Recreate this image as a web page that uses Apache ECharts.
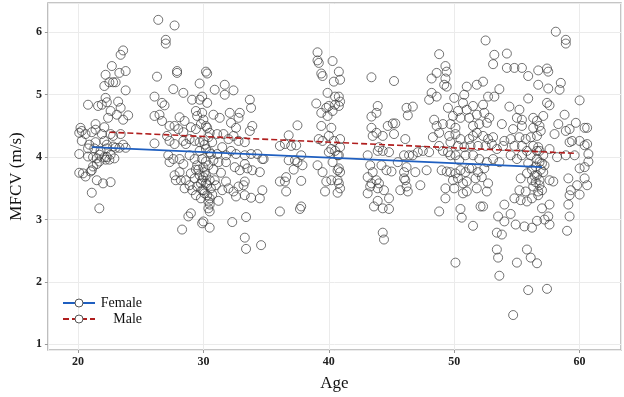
<!DOCTYPE html>
<html>
<head>
<meta charset="utf-8">
<script src="https://cdn.jsdelivr.net/npm/echarts@6/dist/echarts.min.js"></script>
<style>
  html, body { margin: 0; padding: 0; background: #fff; }
  #chart { width: 624px; height: 397px; }
</style>
</head>
<body>
<div id="chart"></div>
<script>
// age groups, each point is [age, MFCV]
const group20s = [
  [23.6,5.71],[23.4,5.64],[22.7,5.46],[22.2,5.32],[23.3,5.35],[23.8,5.38],[22.8,5.2],[23.0,5.2],[22.5,5.2],[22.1,5.14],[23.8,5.07],
  [20.8,4.84],[21.6,4.82],[22.2,4.95],[22.3,4.88],[21.9,4.84],[23.2,4.89],[22.6,4.74],[23.4,4.79],[23.1,4.68],[24.0,4.67],[22.4,4.63],[23.6,4.60],
  [21.4,4.53],[20.2,4.47],[20.3,4.42],[20.1,4.39],[22.1,4.48],[21.4,4.44],[20.6,4.37],[21.1,4.40],[21.9,4.37],[22.6,4.37],[22.8,4.34],[23.4,4.37],
  [20.3,4.26],[20.9,4.20],[21.4,4.24],[22.1,4.26],[22.3,4.20],[22.8,4.17],[23.0,4.15],[23.6,4.20],[23.3,4.15],[23.8,4.15],
  [20.8,4.14],[21.3,4.14],[21.8,4.10],[22.3,4.14],[21.7,4.04],[22.1,4.00],[22.3,4.00],[22.6,4.04],[22.9,3.98],[21.2,4.00],[21.5,3.98],[20.1,4.05],[20.8,4.01],[22.2,3.96],[22.5,3.96],
  [21.7,3.93],[21.5,3.89],[21.2,3.85],[21.1,3.79],[21.0,3.77],[20.1,3.75],[20.4,3.74],[20.6,3.69],[21.5,3.63],[22.0,3.58],[22.6,3.60],[21.1,3.43],[21.7,3.18]
];
const group30s = [
  [26.4,6.20],[27.7,6.11],[27.0,5.88],[27.0,5.82],[27.9,5.38],[27.9,5.35],[26.3,5.29],[29.7,5.18],[30.2,5.37],[27.6,5.09],[28.4,5.03],[26.1,4.97],[26.7,4.87],[26.9,4.83],[29.1,4.92],[29.7,4.92],[29.9,4.97],
  [26.1,4.66],[26.5,4.68],[26.7,4.58],[28.1,4.64],[28.5,4.58],[29.4,4.74],[29.5,4.66],[29.9,4.71],[30.0,4.60],
  [27.3,4.50],[27.7,4.50],[28.0,4.45],[28.4,4.40],[29.0,4.48],[29.4,4.45],[29.8,4.53],[30.2,4.50],
  [26.1,4.22],[27.1,4.34],[27.3,4.26],[27.7,4.21],[28.4,4.26],[28.6,4.21],[28.9,4.29],[29.3,4.26],[29.7,4.24],[30.0,4.26],
  [27.2,4.03],[27.6,3.97],[27.3,3.92],[28.1,3.97],[28.4,3.89],[28.9,4.03],[29.3,3.97],[29.5,3.87],[29.9,3.97],[30.0,3.84],
  [27.7,3.71],[28.1,3.76],[27.8,3.63],[28.2,3.63],[28.6,3.63],[29.0,3.74],[29.3,3.66],[29.7,3.71],[29.9,3.63],
  [28.5,3.50],[28.9,3.55],[29.1,3.47],[29.5,3.53],[29.9,3.47],[30.2,3.58],[29.4,3.39],[29.8,3.34],
  [28.8,3.05],[29.0,3.10],[28.3,2.84],[29.9,2.94],[30.0,2.97],
  [30.3,5.34],[30.9,5.08],[31.7,5.16],[31.7,5.00],[32.4,5.07],[33.7,4.92],[33.8,4.79],[30.3,4.87],[30.8,4.68],[31.3,4.63],[32.1,4.71],[32.9,4.71],[32.8,4.63],[32.2,4.55],[32.6,4.47],[33.9,4.50],[33.7,4.42],[33.3,4.24],
  [30.3,4.47],[30.5,4.39],[30.4,4.32],[30.7,4.24],[31.1,4.37],[31.6,4.37],[32.0,4.29],[32.4,4.34],[32.8,4.26],
  [30.2,4.13],[30.5,4.08],[31.1,4.05],[31.5,4.16],[31.8,4.03],[32.2,4.10],[32.6,4.05],[33.3,4.03],[33.8,4.05],[34.3,4.05],[34.7,3.97],[34.8,3.97],
  [30.2,3.93],[30.4,3.87],[30.8,3.95],[31.2,3.92],[31.8,3.92],[32.5,3.84],[32.9,3.79],[33.3,3.89],[33.5,3.82],[33.9,3.79],[34.5,3.76],
  [30.2,3.71],[30.5,3.63],[30.9,3.63],[30.3,3.55],[31.8,3.61],[32.0,3.50],[31.5,3.47],[32.4,3.45],[32.8,3.53],[33.2,3.55],[33.3,3.61],
  [32.6,3.37],[33.3,3.39],[33.8,3.35],[34.5,3.34],[34.7,3.47],
  [30.0,3.47],[30.3,3.39],[30.5,3.34],[30.4,3.29],[30.5,3.24],[30.4,3.18],[30.5,3.13],[30.5,2.87],[32.3,2.96],[33.4,3.04],[33.3,2.71],[33.4,2.53],[34.6,2.59],
  [29.6,3.80],[30.1,3.76],[30.0,3.68],[29.8,3.58],[30.6,3.50],[30.1,3.42],[29.7,4.10],[30.6,4.05],[30.1,4.20],[30.8,3.80],[31.0,3.55],[30.7,3.40],[29.4,3.80],[31.4,3.75],[31.2,3.30]
];
const group40s = [
  [37.5,4.51],[36.8,4.35],[36.1,4.18],[36.5,4.21],[37.0,4.18],[37.4,4.19],[36.8,3.95],[37.3,3.95],[37.5,3.92],[37.9,3.87],[37.8,4.03],[37.2,3.80],[36.6,3.68],[36.1,3.61],[36.5,3.61],[37.8,3.62],[36.6,3.45],[36.1,3.13],[37.7,3.17],[37.8,3.21],
  [39.1,3.87],[39.1,5.68],[39.1,5.55],[39.2,5.51],[40.3,5.54],[39.4,5.34],[39.5,5.30],[40.4,5.21],[40.8,5.37],[39.9,5.03],[40.5,4.97],[39.0,4.86],[39.4,4.71],[39.8,4.79],[40.0,4.82],[40.5,4.84],[39.9,4.66],[40.3,4.74],
  [39.4,4.50],[40.2,4.47],[40.0,4.34],[40.4,4.26],[39.2,4.29],[39.5,4.26],[40.2,4.13],[40.0,4.08],[40.7,4.03],[40.5,4.10],[40.3,3.92],[40.7,3.79],[39.5,3.76],[39.8,3.61],[40.2,3.63],[40.7,3.63],
  [40.9,5.24],[40.8,4.97],[40.9,4.89],[40.8,4.82],[40.9,4.29],[40.9,4.16],[40.8,4.03],[40.8,3.82],[40.9,3.76],[40.8,3.58],[40.9,3.50],[39.7,3.45],[40.7,3.43],
  [43.4,5.28],[45.2,5.22],[43.9,4.82],[43.4,4.65],[43.8,4.71],[46.2,4.79],[46.3,4.67],[44.7,4.50],[45.1,4.54],[45.3,4.54],[43.4,4.47],[45.2,4.37],[44.3,4.34],[43.5,4.34],[43.8,4.39],[46.1,4.29],
  [44.0,4.16],[44.3,4.10],[44.8,4.08],[43.9,4.10],[43.1,4.03],[44.2,3.87],[44.6,3.79],[45.0,3.77],[45.5,3.92],[46.0,4.03],
  [43.3,3.87],[43.5,3.76],[43.1,3.68],[43.8,3.63],[43.4,3.58],[44.0,3.58],[43.9,3.50],[44.4,3.47],[43.3,3.53],[43.1,3.42],
  [43.9,3.30],[43.6,3.21],[44.3,3.18],[44.8,3.34],[44.8,3.17],[45.7,3.47],[46.3,3.45],[46.0,3.66],[44.3,2.79],[44.4,2.68],
  [46.7,4.81],[46.4,4.03],[46.7,4.03],[47.1,4.08],[47.5,4.10],[48.0,4.08],[46.2,3.84],[46.0,3.76],[46.1,3.63],[46.2,3.53],[46.9,3.76],[47.3,3.55],[47.8,3.79]
];
const group50s = [
  [48.8,5.65],[48.6,5.35],[48.2,5.26],[49.3,5.46],[49.4,5.37],[49.3,5.26],[49.4,5.13],[49.2,5.16],[48.2,5.03],[48.6,4.97],[48.0,4.92],[50.0,4.95],[50.8,5.00],[51.0,5.13],[50.7,4.87],
  [49.5,4.79],[49.9,4.66],[50.3,4.74],[50.5,4.63],[51.0,4.76],[51.2,4.63],[48.4,4.60],[48.6,4.50],[49.1,4.53],[48.3,4.32],[48.8,4.39],[49.7,4.53],[50.1,4.47],
  [49.6,4.34],[50.1,4.37],[50.5,4.29],[49.7,4.24],[50.3,4.18],[50.8,4.16],[51.2,4.29],[51.3,4.18],
  [48.8,4.18],[49.1,4.10],[49.5,4.08],[49.7,4.03],[50.1,4.03],[50.4,3.95],[50.9,4.03],
  [49.0,3.79],[49.4,3.77],[49.7,3.76],[50.1,3.74],[50.5,3.79],[50.9,3.76],[51.2,3.82],
  [49.9,3.63],[50.3,3.66],[50.7,3.58],[51.0,3.61],[49.3,3.50],[50.0,3.50],[50.7,3.42],[51.0,3.45],
  [49.3,3.34],[48.8,3.13],[50.5,3.17],[50.6,3.03],[50.1,2.31],
  [52.5,5.87],[53.2,5.64],[54.2,5.66],[53.1,5.49],[54.2,5.43],[54.8,5.43],[55.4,5.43],[55.9,5.30],[56.7,5.39],
  [51.8,5.16],[52.3,5.21],[53.6,5.09],[52.7,4.97],[53.2,4.97],[55.9,4.94],[56.7,5.16],
  [51.5,4.82],[52.3,4.84],[52.4,4.71],[51.8,4.68],[52.8,4.63],[54.4,4.81],[55.2,4.76],[55.0,4.63],[55.4,4.60],[56.3,4.63],[56.6,4.58],
  [51.5,4.50],[52.0,4.53],[52.6,4.55],[53.8,4.53],[54.7,4.45],[55.4,4.50],[56.3,4.47],
  [51.5,4.34],[51.8,4.39],[52.3,4.34],[52.7,4.29],[53.1,4.32],[54.0,4.26],[54.5,4.29],[55.2,4.32],[55.7,4.29],[56.1,4.32],[56.6,4.34],
  [51.9,4.18],[52.5,4.18],[53.0,4.21],[53.4,4.13],[53.9,4.18],[54.8,4.18],[55.4,4.18],[56.3,4.18],[56.7,4.16],
  [51.5,4.03],[52.0,3.97],[52.6,3.92],[53.1,3.97],[53.6,3.92],[54.5,4.03],[55.0,3.97],[55.4,4.03],[56.1,4.03],[56.6,3.97],
  [51.4,3.82],[51.9,3.76],[52.4,3.82],[51.7,3.66],[52.2,3.68],[52.7,3.58],[51.8,3.50],[52.6,3.45],
  [55.3,3.66],[55.8,3.74],[56.2,3.63],[56.6,3.71],[55.2,3.47],[55.7,3.45],[56.3,3.53],[56.7,3.45],
  [52.1,3.21],[52.3,3.21],[54.0,3.24],[54.8,3.34],[55.3,3.31],[55.8,3.29],[56.2,3.34],
  [51.5,2.90],[53.5,3.05],[54.0,2.97],[53.4,2.79],[53.8,2.76],[54.5,3.09],[54.9,2.92],[55.6,2.89],[56.2,2.87],[56.6,2.98],
  [53.4,2.52],[53.5,2.39],[55.0,2.31],[55.8,2.52],[56.1,2.39],[56.6,2.30],[53.6,2.10],[55.9,1.87],[54.7,1.47],
  [58.1,6.01],[58.9,5.88],[58.9,5.82],[57.4,5.42],[57.5,5.37],[57.5,5.10],[58.5,5.19],[58.4,5.08],
  [60.0,4.91],[57.4,4.87],[57.6,4.83],[57.1,4.66],[56.8,4.50],[56.9,4.42],
  [58.3,4.53],[58.8,4.68],[58.9,4.42],[59.2,4.45],[59.7,4.55],[60.4,4.47],[60.6,4.47],[58.0,4.37],
  [59.2,4.24],[59.4,4.26],[60.0,4.26],[60.4,4.19],[60.6,4.21],[56.8,4.10],[57.1,4.03],[57.6,4.13],[58.2,4.00],[58.9,4.03],[59.6,4.03],[60.7,4.05],
  [60.7,3.93],[60.4,3.84],[60.0,3.82],[56.8,3.92],[57.2,3.87],[57.1,3.76],[57.6,3.63],[57.9,3.61],[56.8,3.63],[57.0,3.47],[56.7,3.39],
  [59.1,3.66],[60.4,3.66],[60.6,3.55],[59.3,3.47],[59.2,3.39],[59.8,3.55],[60.0,3.40],[59.1,3.24],[59.2,3.05],[59.0,2.82],[57.6,3.24],[57.0,3.18],[57.5,3.05],[57.6,2.92],[57.2,3.00],
  [57.4,1.89],
  [56.5,3.85],[56.9,3.80],[56.4,3.70],[56.8,3.55],[56.5,3.60],[57.0,3.90],[56.2,3.80],[55.9,3.90],[56.6,4.10],[55.8,4.10]
];
// fitted lines (start and end)
const femaleFit = [[21.1, 4.16], [57.0, 3.84]];
const maleFit = [[22.5, 4.40], [59.8, 4.06]];
const legendNames = ["Female", "Male"];

let myChart = echarts.init(document.getElementById("chart"));
const serif = "Liberation Serif";
let option = {
  animation: false,
  textStyle: { fontFamily: serif },
  grid: {
    left: 37,
    right: 3,
    top: 3,
    bottom: 43,
    show: true,
    borderColor: "#b3b3b3",
    borderWidth: 1.5,
  },
  legend: {
    orient: "vertical",
    left: 57,
    top: 291,
    itemWidth: 32,
    itemHeight: 10,
    itemGap: 2,
    data: legendNames.map((n) => ({
      name: n,
      itemStyle: { color: "#fff", borderColor: "#555", borderWidth: 1 },
    })),
    formatter: (name) => "{a|" + name + "}",
    textStyle: {
      rich: {
        a: { width: 42, align: "right", fontSize: 14, fontFamily: serif, color: "#111" },
      },
    },
  },
  xAxis: {
    type: "value",
    min: 17.6,
    max: 63.3,
    name: "Age",
    nameLocation: "middle",
    nameGap: 25,
    nameTextStyle: { fontSize: 17, color: "#111", fontFamily: serif },
    axisLine: { show: false },
    axisTick: { show: true, length: 3, lineStyle: { color: "#999" } },
    axisLabel: {
      showMinLabel: false,
      showMaxLabel: false,
      fontSize: 12,
      fontWeight: "bold",
      color: "#222",
      margin: 6,
    },
    splitLine: { lineStyle: { color: "#ebebeb", width: 1 } },
  },
  yAxis: {
    type: "value",
    min: 0.91,
    max: 6.47,
    name: "MFCV (m/s)",
    nameLocation: "middle",
    nameGap: 19,
    nameTextStyle: { fontSize: 17, color: "#111", fontFamily: serif },
    axisLine: { show: false },
    axisTick: { show: true, length: 3, lineStyle: { color: "#999" } },
    axisLabel: {
      showMinLabel: false,
      showMaxLabel: false,
      fontSize: 12,
      fontWeight: "bold",
      color: "#222",
      margin: 6,
    },
    splitLine: { lineStyle: { color: "#ebebeb", width: 1 } },
  },
  series: [
    {
      name: "points",
      type: "scatter",
      symbol: "circle",
      symbolSize: 9,
      data: [].concat(group20s, group30s, group40s, group50s),
      itemStyle: { color: "rgba(0,0,0,0)", borderColor: "#3c3c3c", borderWidth: 0.9 },
      z: 2,
    },
    {
      name: "Female",
      type: "line",
      data: femaleFit,
      symbol: "circle",
      showSymbol: false,
      color: "#1f5fc0",
      lineStyle: { color: "#1f5fc0", width: 1.6, type: "solid" },
      z: 3,
    },
    {
      name: "Male",
      type: "line",
      data: maleFit,
      symbol: "circle",
      showSymbol: false,
      color: "#b01e1e",
      lineStyle: { color: "#b01e1e", width: 1.6, type: [6, 3] },
      z: 3,
    },
  ],
};
myChart.setOption(option);
</script>
</body>
</html>
